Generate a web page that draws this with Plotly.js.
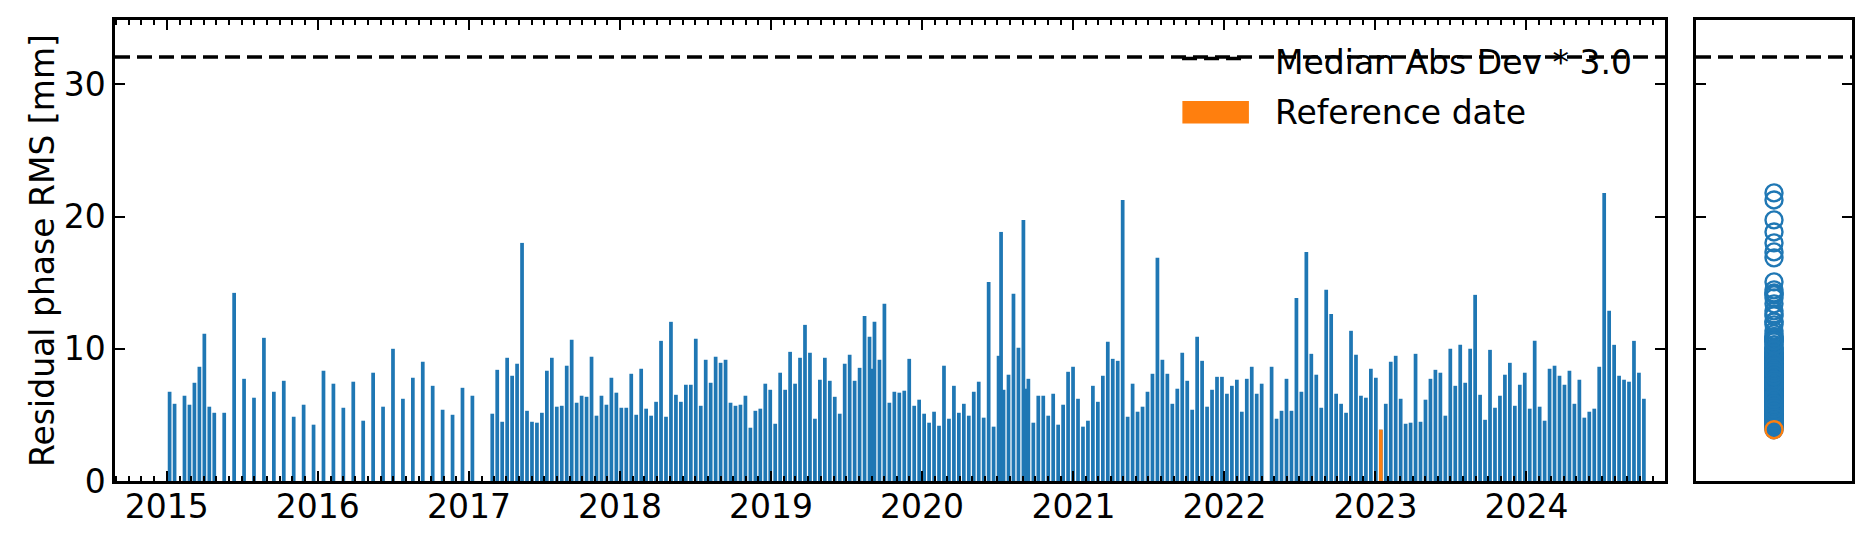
<!DOCTYPE html>
<html>
<head>
<meta charset="utf-8">
<script src="https://cdn.plot.ly/plotly-3.0.1.min.js"></script>
<style>html,body{margin:0;padding:0;background:#fff;}#chart{width:1872px;height:545px;}</style>
</head>
<body>
<div id="chart"></div>
<script>
// Acquisition dates (bar positions)
const dates = [
  '2015-01-08','2015-01-20','2015-02-13','2015-02-25','2015-03-09','2015-03-21','2015-04-02','2015-04-14','2015-04-26','2015-05-20',
  '2015-06-13','2015-07-07','2015-07-31','2015-08-24','2015-09-17','2015-10-11','2015-11-04','2015-11-28','2015-12-22',
  '2016-01-15','2016-02-08','2016-03-03','2016-03-27','2016-04-20','2016-05-14','2016-06-07','2016-07-01','2016-07-25','2016-08-18',
  '2016-09-11','2016-10-05','2016-10-29','2016-11-22','2016-12-16',
  '2017-01-09','2017-02-26','2017-03-10','2017-03-22','2017-04-03','2017-04-15','2017-04-27','2017-05-09','2017-05-21','2017-06-02',
  '2017-06-14','2017-06-26','2017-07-08','2017-07-20','2017-08-01','2017-08-13','2017-08-25','2017-09-06','2017-09-18','2017-09-30',
  '2017-10-12','2017-10-24','2017-11-05','2017-11-17','2017-11-29','2017-12-11','2017-12-23',
  '2018-01-04','2018-01-16','2018-01-28','2018-02-09','2018-02-21','2018-03-05','2018-03-17','2018-03-29','2018-04-10','2018-04-22',
  '2018-05-04','2018-05-16','2018-05-28','2018-06-09','2018-06-21','2018-07-03','2018-07-15','2018-07-27','2018-08-08','2018-08-20',
  '2018-09-01','2018-09-13','2018-09-25','2018-10-07','2018-10-19','2018-10-31','2018-11-12','2018-11-24','2018-12-06','2018-12-18',
  '2018-12-30',
  '2019-01-11','2019-01-23','2019-02-04','2019-02-16','2019-02-28','2019-03-12','2019-03-24','2019-04-05','2019-04-17','2019-04-29',
  '2019-05-11','2019-05-23','2019-06-04','2019-06-16','2019-06-28','2019-07-10','2019-07-22','2019-08-03','2019-08-15','2019-08-27',
  '2019-09-02','2019-09-08','2019-09-20','2019-10-02','2019-10-14','2019-10-26','2019-11-07','2019-11-19','2019-12-01','2019-12-13',
  '2019-12-25',
  '2020-01-06','2020-01-18','2020-01-30','2020-02-11','2020-02-23','2020-03-06','2020-03-18','2020-03-30','2020-04-11','2020-04-23',
  '2020-05-05','2020-05-17','2020-05-29','2020-06-10','2020-06-22','2020-07-04','2020-07-10','2020-07-16','2020-07-28','2020-08-09',
  '2020-08-21','2020-09-02','2020-09-08','2020-09-14','2020-09-26','2020-10-08','2020-10-20','2020-11-01','2020-11-13','2020-11-25',
  '2020-12-07','2020-12-19','2020-12-31',
  '2021-01-12','2021-01-24','2021-02-05','2021-02-17','2021-03-01','2021-03-13','2021-03-25','2021-04-06','2021-04-18','2021-04-30',
  '2021-05-12','2021-05-24','2021-06-05','2021-06-17','2021-06-29','2021-07-11','2021-07-23','2021-08-04','2021-08-16','2021-08-28',
  '2021-09-09','2021-09-21','2021-10-03','2021-10-15','2021-10-27','2021-11-08','2021-11-20','2021-12-02','2021-12-14','2021-12-26',
  '2022-01-07','2022-01-19','2022-01-31','2022-02-12','2022-02-24','2022-03-08','2022-03-20','2022-04-01','2022-04-25','2022-05-07',
  '2022-05-19','2022-05-31','2022-06-12','2022-06-24','2022-07-06','2022-07-18','2022-07-30','2022-08-11','2022-08-23','2022-09-04',
  '2022-09-16','2022-09-28','2022-10-10','2022-10-22','2022-11-03','2022-11-15','2022-11-27','2022-12-09','2022-12-21',
  '2023-01-02','2023-01-14','2023-01-26','2023-02-07','2023-02-19','2023-03-03','2023-03-15','2023-03-27','2023-04-08','2023-04-20',
  '2023-05-02','2023-05-14','2023-05-26','2023-06-07','2023-06-19','2023-07-01','2023-07-13','2023-07-25','2023-08-06','2023-08-18',
  '2023-08-30','2023-09-11','2023-09-23','2023-10-05','2023-10-17','2023-10-29','2023-11-10','2023-11-22','2023-12-04','2023-12-16',
  '2023-12-28',
  '2024-01-09','2024-01-21','2024-02-02','2024-02-14','2024-02-26','2024-03-09','2024-03-21','2024-04-02','2024-04-14','2024-04-26',
  '2024-05-08','2024-05-20','2024-06-01','2024-06-13','2024-06-25','2024-07-07','2024-07-19','2024-07-31','2024-08-12','2024-08-24',
  '2024-09-05','2024-09-17','2024-09-29','2024-10-11'
];

// Residual phase RMS [mm], one per date
const rms = [
  6.75,5.84,6.45,5.77,7.43,8.64,11.13,5.62,5.16,5.16,
  14.23,7.73,6.30,10.83,6.75,7.58,4.86,5.77,4.26,
  8.34,7.36,5.54,7.51,4.56,8.19,5.62,10.0,6.22,7.81,
  9.02,7.20,5.39,5.01,7.05,
  6.45,5.09,8.41,4.48,9.32,7.96,8.87,18.01,5.31,4.48,
  4.41,5.16,8.34,9.32,5.62,5.69,8.72,10.68,5.92,6.45,
  6.37,9.40,4.94,6.45,5.77,7.81,6.68,
  5.54,5.54,8.11,5.01,8.49,5.47,4.94,5.99,10.60,4.86,
  12.04,6.52,5.99,7.28,7.28,10.76,5.69,9.17,7.43,9.40,
  8.94,9.17,5.92,5.69,5.77,6.45,4.03,5.31,5.47,7.36,
  6.90,
  4.33,8.19,6.90,9.77,7.36,9.32,11.81,9.70,4.71,7.66,
  9.32,7.58,6.37,5.09,8.87,9.55,7.58,8.56,12.49,10.91,
  8.49,12.04,9.17,13.40,5.92,6.75,6.68,6.83,9.24,5.69,
  6.15,
  5.09,4.41,5.24,4.18,8.72,4.71,7.20,5.16,5.84,4.94,
  6.75,7.51,4.79,15.06,4.11,9.47,18.84,6.90,8.04,14.16,
  10.08,19.75,6.98,7.73,4.41,6.45,6.45,4.94,6.60,4.26,
  5.77,8.26,8.64,
  6.22,4.11,4.56,7.20,5.99,7.96,10.53,9.24,9.09,21.26,
  4.86,7.36,5.24,5.62,6.75,8.11,16.88,9.17,8.11,5.84,
  6.98,9.70,7.58,5.39,10.91,9.09,5.62,6.90,7.88,7.88,
  6.60,7.20,7.66,5.24,7.73,8.64,6.60,7.36,8.64,4.71,
  5.31,7.73,5.31,13.85,6.75,17.33,9.62,8.04,5.54,14.46,
  12.64,6.60,5.84,5.16,11.36,9.55,6.45,6.30,8.49,
  7.81,3.88,5.84,9.02,9.47,6.22,4.33,4.41,9.62,4.48,
  6.15,7.73,8.41,8.19,4.94,10.0,7.20,10.30,7.43,10.0,
  14.08,6.52,4.63,9.92,5.54,6.45,8.04,8.94,5.69,7.28,
  8.19,
  5.47,10.60,5.62,4.56,8.49,8.72,7.96,7.28,8.34,5.84,
  7.66,4.79,5.24,5.47,8.64,21.79,12.87,10.30,7.96,7.66,
  7.51,10.60,8.19,6.22
];

const refDate = '2023-01-14';
const madThreshold = 32.08;            // Median Abs Dev * 3.0
const yTicks = [0, 10, 20, 30];
const yRange = [0, 34.87];
const xRange = ['2014-08-29', '2024-12-01'];
const legendLabels = ['Median Abs Dev * 3.0', 'Reference date'];

const BLUE = '#1f77b4', ORANGE = '#ff7f0e';
const refIdx = dates.indexOf(refDate);
const refVal = rms[refIdx];
const DAY = 86400000;

const traces = [
  {type:'bar', x:dates, y:rms, xaxis:'x', yaxis:'y', width:dates.map(()=>9*DAY),
   marker:{color:BLUE, line:{width:0}}, hoverinfo:'x+y', showlegend:false},
  {type:'bar', x:[refDate], y:[refVal], xaxis:'x', yaxis:'y', width:[9*DAY],
   marker:{color:ORANGE, line:{width:0}}, name:legendLabels[1], showlegend:false},
  {type:'scatter', mode:'markers', x:rms.map(()=>0), y:rms, xaxis:'x2', yaxis:'y2',
   marker:{symbol:'circle-open', size:17, color:BLUE, line:{width:2.4, color:BLUE}}, showlegend:false},
  {type:'scatter', mode:'markers', x:[0], y:[refVal], xaxis:'x2', yaxis:'y2',
   marker:{symbol:'circle-open', size:17, color:ORANGE, line:{width:2.4, color:ORANGE}}, showlegend:false}
];

const axisLine = {showline:true, linecolor:'black', linewidth:2.5, showgrid:false, zeroline:false};

const layout = {
  width:1872, height:545,
  margin:{l:115, r:20, t:20, b:63.5, pad:0},
  paper_bgcolor:'white', plot_bgcolor:'white',
  font:{family:'DejaVu Sans, sans-serif', size:33, color:'black'},
  showlegend:false,
  barmode:'overlay',
  xaxis: Object.assign({}, axisLine, {
    type:'date', domain:[0, 0.89234], range:xRange, anchor:'y',
    tick0:'2015-01-01', dtick:'M12', tickformat:'%Y',
    ticks:'inside', ticklen:10, tickwidth:2.2, tickcolor:'black', mirror:'allticks',
    ticklabelstandoff:-5,
    tickfont:{size:33, family:'DejaVu Sans', color:'black'},
    minor:{tick0:'2015-01-01', dtick:'M1', ticks:'inside', ticklen:5.5, tickwidth:1.7, tickcolor:'black', showgrid:false}
  }),
  yaxis: Object.assign({}, axisLine, {
    domain:[0,1], range:yRange, anchor:'x', tickvals:yTicks,
    ticks:'inside', ticklen:10, tickwidth:2.2, tickcolor:'black', mirror:'allticks',
    tickfont:{size:33, family:'DejaVu Sans', color:'black'},
    title:{text:'Residual phase RMS [mm]', standoff:0, font:{size:33, family:'DejaVu Sans', color:'black'}}
  }),
  xaxis2: Object.assign({}, axisLine, {
    domain:[0.91019, 1], range:[-1, 1], anchor:'y2', mirror:true,
    showticklabels:false, ticks:''
  }),
  yaxis2: Object.assign({}, axisLine, {
    domain:[0,1], range:yRange, anchor:'x2', tickvals:yTicks, showticklabels:false,
    ticks:'inside', ticklen:10, tickwidth:2.2, tickcolor:'black', mirror:'allticks'
  }),
  shapes: [
    {type:'line', xref:'x domain', yref:'y', x0:0, x1:1, y0:madThreshold, y1:madThreshold,
     line:{color:'black', width:3.5, dash:'15px,7px'}},
    {type:'line', xref:'x2 domain', yref:'y2', x0:0, x1:1, y0:madThreshold, y1:madThreshold,
     line:{color:'black', width:3.5, dash:'15px,7px'}},
    // legend keys
    {type:'line', xref:'paper', yref:'paper', x0:0.6143, x1:0.6523, y0:0.9166, y1:0.9166,
     line:{color:'black', width:3.5, dash:'15px,7px'}},
    {type:'rect', xref:'paper', yref:'paper', x0:0.6145, x1:0.6528, y0:0.7753, y1:0.8245,
     fillcolor:ORANGE, line:{width:0}}
  ],
  annotations: [
    {xref:'paper', yref:'paper', x:0.6669, y:0.9068, xanchor:'left', yanchor:'middle', showarrow:false,
     text:legendLabels[0], font:{size:33, family:'DejaVu Sans', color:'black'}},
    {xref:'paper', yref:'paper', x:0.6669, y:0.7996, xanchor:'left', yanchor:'middle', showarrow:false,
     text:legendLabels[1], font:{size:33, family:'DejaVu Sans', color:'black'}}
  ]
};

Plotly.newPlot('chart', traces, layout, {displayModeBar:false, responsive:false});
</script>
</body>
</html>
